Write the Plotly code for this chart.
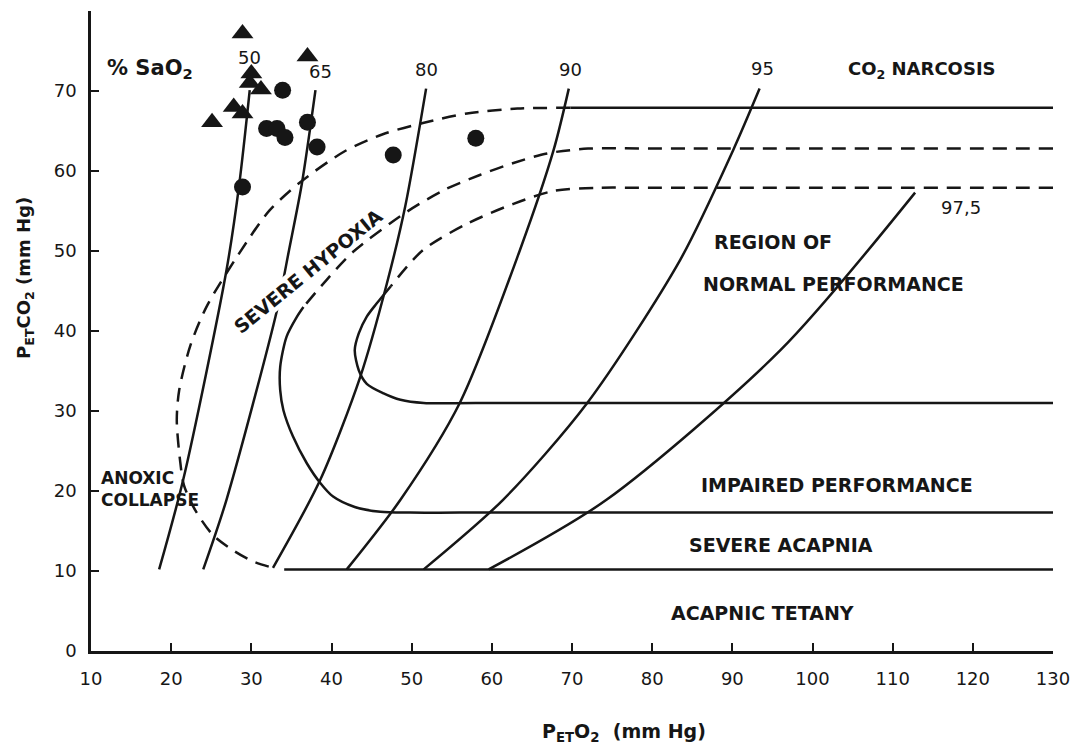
import plotly.graph_objects as go

INK = "#161616"
FONT = "DejaVu Sans"

# ---- axis ticks -------------------------------------------------------------
x_ticks = [10, 20, 30, 40, 50, 60, 70, 80, 90, 100, 110, 120, 130]
y_ticks = [0, 10, 20, 30, 40, 50, 60, 70]

# ---- arterial O2 saturation isopleths (PETO2, PETCO2), by % SaO2 ------------
sat_labels = ["50", "65", "80", "90", "95", "97,5"]
sat_50_x = [18.5, 21.5, 26.9, 28.5, 29.8]
sat_50_y = [10.2, 21.4, 47.6, 58.4, 70.1]
sat_65_x = [24.0, 26.9, 33.2, 34.7, 36.3, 38.0]
sat_65_y = [10.2, 18.9, 42.6, 50.1, 58.4, 70.1]
sat_80_x = [32.7, 38.6, 43.6, 46.9, 49.2, 51.8]
sat_80_y = [10.4, 21.4, 34.3, 45.9, 55.6, 70.3]
sat_90_x = [41.9, 48.6, 56.0, 63.5, 67.7, 69.6]
sat_90_y = [10.2, 18.9, 31.0, 50.1, 62.6, 70.3]
sat_95_x = [51.5, 61.4, 71.9, 83.5, 90.1, 93.4]
sat_95_y = [10.2, 18.9, 31.0, 48.9, 62.6, 70.3]
sat_975_x = [59.6, 74.3, 96.0, 112.8]
sat_975_y = [10.2, 18.9, 37.6, 57.3]

# ---- CO2 narcosis / severe hypoxia boundary ---------------------------------
narc_flat_x = [69.8, 130.0]
narc_flat_y = [67.9, 67.9]
narc_curve_x = [69.8, 63.2, 56.9, 51.4, 46.4, 41.7, 36.1, 32.3, 29.6, 24.5,
                22.4, 21.0, 20.7, 21.1, 21.6, 23.0, 25.2, 27.7, 30.2, 32.7]
narc_curve_y = [67.9, 67.8, 67.2, 66.0, 64.6, 62.5, 58.6, 55.1, 51.4, 43.2,
                38.2, 32.6, 28.9, 23.9, 20.7, 17.6, 14.5, 12.6, 11.2, 10.4]

# ---- impaired performance boundary (dashed above, solid below) --------------
impair_dash_x = [130.0, 80.0, 72.0, 66.9, 62.7, 58.5, 54.2, 49.4, 42.7, 39.4, 36.5]
impair_dash_y = [62.8, 62.8, 62.8, 62.2, 61.0, 59.5, 57.7, 54.9, 49.9, 46.4, 43.0]
impair_solid_x = [36.5, 35.7, 34.4, 33.6, 33.6, 34.0, 35.2, 36.9, 38.6, 40.2,
                  42.9, 46.1, 49.8, 56.0, 130.0]
impair_solid_y = [43.0, 41.8, 39.3, 35.5, 32.6, 30.1, 26.8, 23.5, 21.0, 19.3,
                  18.0, 17.4, 17.3, 17.3, 17.3]

# ---- normal performance boundary (dashed above, solid loop below) -----------
normal_dash_x = [130.0, 80.0, 73.1, 67.7, 62.7, 56.9, 51.4, 47.4]
normal_dash_y = [57.9, 57.9, 57.9, 57.5, 55.9, 53.4, 50.1, 45.6]
normal_solid_x = [47.4, 45.6, 44.4, 43.4, 42.9, 43.4, 44.4, 46.5, 48.6, 51.5, 58.0, 130.0]
normal_solid_y = [45.6, 43.4, 41.8, 39.7, 37.6, 35.1, 33.4, 32.2, 31.4, 31.0, 31.0, 31.0]

# ---- acapnic tetany boundary ------------------------------------------------
tetany_x = [34.1, 130.0]
tetany_y = [10.2, 10.2]

# ---- subject observations ---------------------------------------------------
tri_x = [28.9, 37.0, 30.0, 29.8, 31.2, 27.8, 28.9, 25.1]
tri_y = [77.2, 74.3, 72.2, 71.0, 70.2, 68.0, 67.2, 66.1]
dot_x = [28.9, 33.9, 31.9, 33.2, 34.2, 37.0, 38.2, 47.7, 58.0]
dot_y = [58.0, 70.1, 65.3, 65.3, 64.2, 66.1, 63.0, 62.0, 64.1]

DASH = "14px,9px"
LW = 2.5

fig = go.Figure()


def add_line(xs, ys, dash="solid", curved=True):
    fig.add_trace(go.Scatter(
        x=xs, y=ys, mode="lines", hoverinfo="skip",
        line=dict(color=INK, width=LW, dash=dash,
                  shape="spline" if curved else "linear", smoothing=0.8),
    ))


for xs, ys in [(sat_50_x, sat_50_y), (sat_65_x, sat_65_y), (sat_80_x, sat_80_y),
               (sat_90_x, sat_90_y), (sat_95_x, sat_95_y), (sat_975_x, sat_975_y)]:
    add_line(xs, ys)

add_line(narc_flat_x, narc_flat_y, curved=False)
add_line(narc_curve_x, narc_curve_y, DASH)
add_line(impair_dash_x, impair_dash_y, DASH)
add_line(impair_solid_x, impair_solid_y)
add_line(normal_dash_x, normal_dash_y, DASH)
add_line(normal_solid_x, normal_solid_y)
add_line(tetany_x, tetany_y, curved=False)

fig.add_trace(go.Scatter(
    x=tri_x, y=tri_y, mode="markers", hoverinfo="skip",
    marker=dict(symbol="triangle-up", size=19, color=INK, line=dict(width=0)),
))
fig.add_trace(go.Scatter(
    x=dot_x, y=dot_y, mode="markers", hoverinfo="skip",
    marker=dict(symbol="circle", size=17, color=INK, line=dict(width=0)),
))


def label(text, x, y, size=19, angle=0, xanchor="center", bold=True, bg=None, align="center"):
    fig.add_annotation(
        x=x, y=y, xref="x", yref="y", text=text, showarrow=False,
        xanchor=xanchor, yanchor="middle", textangle=angle, align=align,
        bgcolor=bg, borderpad=0,
        font=dict(family=FONT, size=size, color=INK, weight="bold" if bold else "normal"),
    )


# saturation labels at the top of each isopleth
sat_label_pos = [(29.8, 74.2), (38.6, 72.5), (51.9, 72.7), (69.8, 72.7), (93.8, 72.8), (115.9, 55.4)]
for txt, (lx, ly) in zip(sat_labels, sat_label_pos):
    label(txt, lx, ly, size=18, bold=False, xanchor="left" if txt == "97,5" else "center")

label("% SaO<sub>2</sub>", 11.9, 72.8, size=21, xanchor="left")
label("CO<sub>2</sub> NARCOSIS", 113.6, 72.6, size=18)
label("REGION OF", 95.1, 51.1)
label("NORMAL PERFORMANCE", 102.6, 45.9)
label("SEVERE HYPOXIA", 37.1, 47.5, angle=-39, bg="white")
label("ANOXIC<br>COLLAPSE", 11.1, 20.2, size=17, xanchor="left", align="left")
label("IMPAIRED PERFORMANCE", 103.0, 20.7)
label("SEVERE ACAPNIA", 96.1, 13.2)
label("ACAPNIC TETANY", 93.8, 4.7)

# axis titles
fig.add_annotation(
    x=0.554, y=-0.128, xref="paper", yref="paper", showarrow=False,
    text="P<sub>ET</sub>O<sub>2</sub>  (mm Hg)", xanchor="center", yanchor="middle",
    font=dict(family=FONT, size=19, color=INK, weight="bold"),
)
fig.add_annotation(
    x=-0.0686, y=0.583, xref="paper", yref="paper", showarrow=False,
    text="P<sub>ET</sub>CO<sub>2</sub> (mm Hg)", textangle=-90,
    xanchor="center", yanchor="middle",
    font=dict(family=FONT, size=18, color=INK, weight="bold"),
)

fig.update_layout(
    width=1083, height=754, autosize=False,
    margin=dict(l=91, r=30, t=11, b=103),
    paper_bgcolor="white", plot_bgcolor="white",
    showlegend=False,
    font=dict(family=FONT, color=INK),
)
fig.update_xaxes(
    range=[10, 130], tickvals=x_ticks, ticktext=[str(v) for v in x_ticks],
    ticks="inside", ticklen=8, tickwidth=2.4, tickcolor=INK,
    showline=True, linewidth=2.6, linecolor=INK,
    showgrid=False, zeroline=False,
    tickfont=dict(family=FONT, size=18, color=INK), ticklabelstandoff=10,
)
fig.update_yaxes(
    range=[0, 80], tickvals=y_ticks, ticktext=[str(v) for v in y_ticks],
    ticks="inside", ticklen=8, tickwidth=2.4, tickcolor=INK,
    showline=True, linewidth=2.6, linecolor=INK,
    showgrid=False, zeroline=False,
    tickfont=dict(family=FONT, size=18, color=INK), ticklabelstandoff=8,
)

fig.write_html("out.html")
